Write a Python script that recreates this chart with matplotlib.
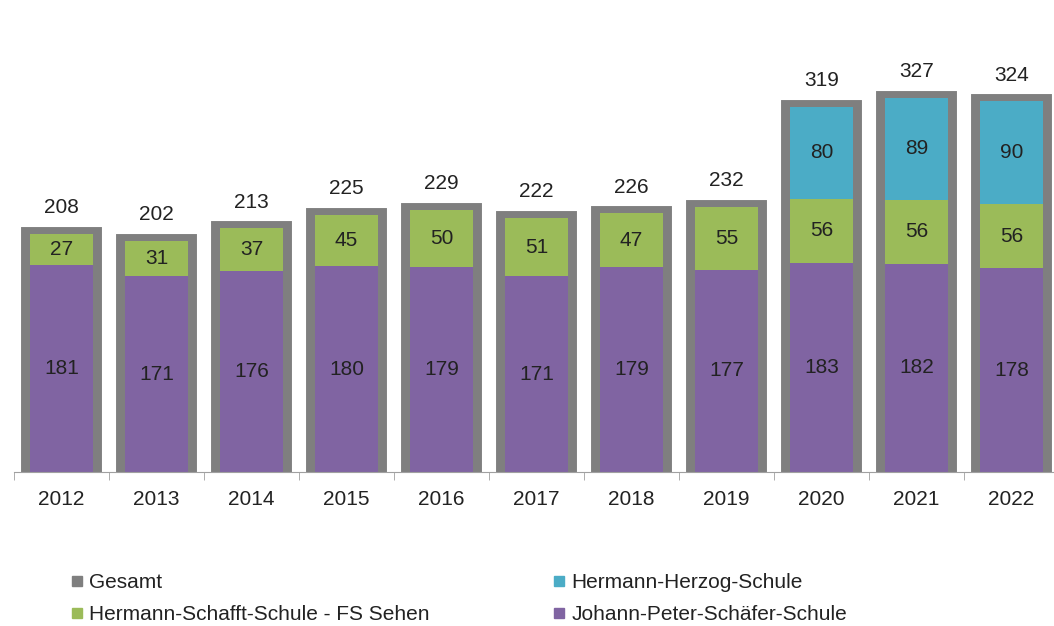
import matplotlib.pyplot as plt
import numpy as np
from matplotlib.lines import Line2D

plt.rcParams['font.family'] = ['Liberation Sans', 'DejaVu Sans']

years = ["2012", "2013", "2014", "2015", "2016", "2017", "2018", "2019", "2020", "2021", "2022"]
gesamt = [208, 202, 213, 225, 229, 222, 226, 232, 319, 327, 324]
schaefer = [181, 171, 176, 180, 179, 171, 179, 177, 183, 182, 178]
schafft = [27, 31, 37, 45, 50, 51, 47, 55, 56, 56, 56]
herzog = [0, 0, 0, 0, 0, 0, 0, 0, 80, 89, 90]

c_gray = "#7f7f7f"
c_green = "#9bbb59"
c_teal = "#4bacc6"
c_purple = "#8064a2"

fig = plt.figure(figsize=(10.54, 6.26), dpi=100)
ax = fig.add_axes([14 / 1054, 154 / 626, 1045 / 1054, 472 / 626])

x = np.arange(len(years))
ax.bar(x, gesamt, width=0.70, color=c_gray, edgecolor=c_gray, linewidth=10, joinstyle="miter", zorder=1)
ax.bar(x, schaefer, width=0.66, color=c_purple, zorder=2)
ax.bar(x, schafft, width=0.66, bottom=schaefer, color=c_green, zorder=2)
bot3 = np.array(schaefer) + np.array(schafft)
ax.bar(x, herzog, width=0.66, bottom=bot3, color=c_teal, zorder=2)

fs = 15
tc = "#222222"
for i in range(len(years)):
    ax.text(x[i], schaefer[i] / 2, str(schaefer[i]), ha="center", va="center", fontsize=fs, color=tc, zorder=3)
    ax.text(x[i], schaefer[i] + schafft[i] / 2, str(schafft[i]), ha="center", va="center", fontsize=fs, color=tc, zorder=3)
    if herzog[i] > 0:
        ax.text(x[i], bot3[i] + herzog[i] / 2, str(herzog[i]), ha="center", va="center", fontsize=fs, color=tc, zorder=3)
    ax.text(x[i], gesamt[i] + 23, str(gesamt[i]), ha="center", va="center", fontsize=fs, color=tc, zorder=3)

ax.set_xlim(-0.5, 10.5)
ax.set_ylim(0, 412.6)
ax.set_yticks([])
for s in ["top", "right", "left"]:
    ax.spines[s].set_visible(False)
ax.spines["bottom"].set_color("#a0a0a0")
ax.spines["bottom"].set_zorder(4)
ax.set_xticks(x)
ax.set_xticklabels(years, fontsize=fs, color=tc)
ax.set_xticks(np.arange(-0.5, 11, 1), minor=True)
ax.tick_params(axis="x", which="major", length=0, pad=13)
ax.tick_params(axis="x", which="minor", length=6, color="#a0a0a0")

handles = [
    Line2D([], [], marker="s", linestyle="none", markersize=7, color=c_gray),
    Line2D([], [], marker="s", linestyle="none", markersize=7, color=c_green),
    Line2D([], [], marker="s", linestyle="none", markersize=7, color=c_teal),
    Line2D([], [], marker="s", linestyle="none", markersize=7, color=c_purple),
]
labels = ["Gesamt", "Hermann-Schafft-Schule - FS Sehen", "Hermann-Herzog-Schule", "Johann-Peter-Schäfer-Schule"]
fig.legend(handles, labels, ncol=2, loc="upper left", bbox_to_anchor=(60 / 1054, 1 - 563 / 626),
           frameon=False, fontsize=fs, handlelength=0.6, handletextpad=0.3, columnspacing=5.9,
           labelspacing=0.6, borderpad=0, labelcolor=tc)

fig.savefig("out.png", dpi=100)
